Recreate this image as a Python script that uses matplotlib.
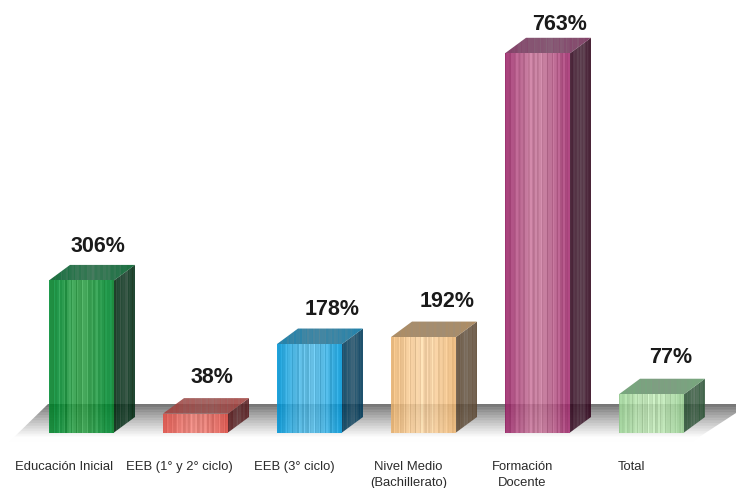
import numpy as np
import matplotlib
matplotlib.use("Agg")
import matplotlib.pyplot as plt
from matplotlib.colors import to_rgb
from matplotlib.patches import Polygon

categories = ["Educación Inicial", "EEB (1° y 2° ciclo)", "EEB (3° ciclo)",
              "Nivel Medio\n(Bachillerato)", "Formación\nDocente", "Total"]
values = [306, 38, 178, 192, 763, 77]
value_labels = ["306%", "38%", "178%", "192%", "763%", "77%"]

front_edge = ["#0e9144", "#e2625a", "#1ba2dc", "#eebd82", "#a33a76", "#a4d49f"]
front_mid = ["#45a75a", "#ee8f87", "#66bfe5", "#f5d3a8", "#c6809f", "#c0e2b8"]
side_col = ["#153f28", "#6a3234", "#184f6c", "#6f5c48", "#4a2338", "#42664b"]
top_col = ["#177040", "#b05552", "#2383ac", "#af8d64", "#84436a", "#77a87d"]
label_dx = [16, 16, 23, 24, 22, 19]
label_dy = [19, 22, 20, 21, 14, 22]
tick_dx = [-17, -16, -15, -15, -15, -20]

plt.rcParams["font.family"] = ["Liberation Sans", "DejaVu Sans"]
W, H = 736, 489
fig = plt.figure(figsize=(W / 100, H / 100), dpi=100)
ax = fig.add_axes([0, 0, 1, 1])
PX_X = 114.0   # pixels per category
PX_Y = 0.497   # pixels per percent
X0, Y0 = 81.5, 433.5
xlim = (-X0 / PX_X, (W - X0) / PX_X)
ylim = (-(H - Y0) / PX_Y, Y0 / PX_Y)
half = 32.5 / PX_X
dx, dy = 21 / PX_X, 15.5 / PX_Y
ALPHA = 0.88


def ppx(px):
    return (px - X0) / PX_X


def ppy(py):
    return (Y0 - py) / PX_Y


def stripes(n, seed):
    t = np.arange(n)
    s = (np.sin(t * 1.7 + seed) + 0.7 * np.sin(t * 3.1 + 2 * seed)
         + 0.5 * np.sin(t * 0.63 + 3 * seed))
    return s / 2.2


def face(x0, x1, y0, y1, poly, colors, z):
    # colours are the look over white: undo the translucency
    c = np.clip((colors - (1 - ALPHA)) / ALPHA, 0, 1)
    im = ax.imshow(c[np.newaxis, :, :], extent=(x0, x1, y0, y1), aspect="auto",
                   zorder=z, alpha=ALPHA, interpolation="nearest")
    p = Polygon(poly, closed=True, transform=ax.transData, fc="none", ec="none")
    ax.add_patch(p)
    im.set_clip_path(p)


# floor
fy = np.linspace(0, 1, 90)
shade = 0.44 + 0.56 * np.clip(fy / 0.86, 0, 1) ** 0.85
shade += 0.035 * np.sin(fy * 90) * (1 - fy)
shade = np.clip(shade, 0, 1)
floor_img = np.repeat(shade[:, None], 3, axis=1)[:, None, :]
floor_poly = [(ppx(48), ppy(405)), (ppx(736), ppy(405)), (ppx(736), ppy(414)),
              (ppx(690), ppy(444)), (ppx(8), ppy(444))]
fl = ax.imshow(floor_img, extent=(ppx(0), ppx(736), ppy(444), ppy(405)),
               aspect="auto", zorder=1, interpolation="bilinear")
fp = Polygon(floor_poly, closed=True, transform=ax.transData, fc="none", ec="none")
ax.add_patch(fp)
fl.set_clip_path(fp)

for i, v in enumerate(values):
    l, r = i - half, i + half
    n = 52
    u = np.linspace(-1, 1, n)
    bell = np.clip(1 - np.abs(u) ** 1.6, 0, 1)[:, None]
    e, m = np.array(to_rgb(front_edge[i])), np.array(to_rgb(front_mid[i]))
    c = e * (1 - bell) + m * bell
    c = c + (0.05 + 0.05 * bell) * stripes(n, i + 1)[:, None]
    c = np.clip(c, 0, 1)
    face(l, r, 0, v, [(l, 0), (r, 0), (r, v), (l, v)], c, 3 + i)

    # side face
    ns = 22
    sc = np.array(to_rgb(side_col[i]))
    sv = np.linspace(0, 1, ns)
    g = (0.5 - 0.5 * np.cos(sv * 2 * np.pi)) * 0.2 + 0.14 * stripes(ns, i + 4) + 0.05
    g = np.clip(g, 0, 1)
    c2 = np.clip(sc[None, :] * (1 - g[:, None]) + 0.62 * g[:, None], 0, 1)
    face(r, r + dx, 0, v + dy,
         [(r, 0), (r + dx, dy), (r + dx, v + dy), (r, v)], c2, 3 + i)

    # top face
    nt = 60
    tc = np.array(to_rgb(top_col[i]))
    tv = np.linspace(-1, 1, nt)
    g = np.clip(1 - np.abs(tv) ** 1.4, 0, 1) * 0.32 + 0.13 * stripes(nt, i + 7)
    g = np.clip(g, 0, 1)
    c3 = np.clip(tc[None, :] * (1 - g[:, None]) + 0.55 * g[:, None], 0, 1)
    face(l, r + dx, v, v + dy,
         [(l, v), (r, v), (r + dx, v + dy), (l + dx, v + dy)], c3, 3 + i)

    ax.annotate(value_labels[i], (i, v + dy), xytext=(label_dx[i] * 0.72, label_dy[i] * 0.72),
                textcoords="offset points", ha="center", va="center",
                fontsize=15.5, fontweight="bold", color="#1a1a1a", zorder=20)
    ax.annotate(categories[i], (i, 0), xytext=(tick_dx[i] * 0.72, -19.5),
                textcoords="offset points", ha="center", va="top",
                fontsize=9.4, color="#2b2b2b", linespacing=1.45, zorder=20)

ax.set_xlim(*xlim)
ax.set_ylim(*ylim)
ax.axis("off")
fig.savefig("out.png", dpi=100, facecolor="white")
